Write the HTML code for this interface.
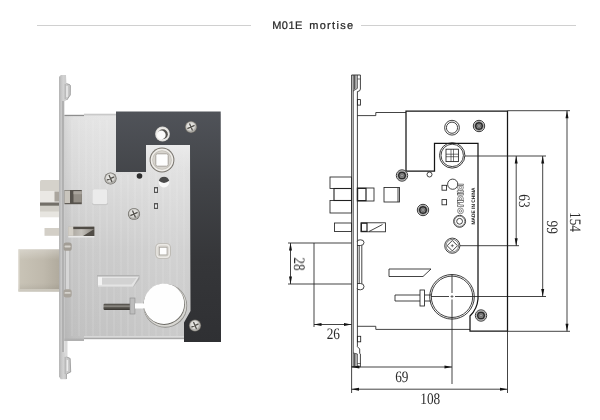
<!DOCTYPE html>
<html>
<head>
<meta charset="utf-8">
<title>M01E mortise</title>
<style>
html,body{margin:0;padding:0;background:#fff;}
body{width:600px;height:420px;overflow:hidden;position:relative;font-family:"Liberation Sans",sans-serif;}
svg{position:absolute;left:0;top:0;display:block;}
text{text-rendering:geometricPrecision;}
.t{font-family:"Liberation Sans",sans-serif;font-size:11px;fill:#262626;stroke:#262626;stroke-width:0.22px;letter-spacing:0.9px;}
.d{font-family:"Liberation Serif",serif;font-size:16px;fill:#2a2a2a;}
</style>
</head>
<body>
<svg width="600" height="420" viewBox="0 0 600 420">
<defs>
  <linearGradient id="gBody" x1="0" y1="0" x2="0" y2="1">
    <stop offset="0" stop-color="#e6e6e6"/>
    <stop offset="0.3" stop-color="#dbdbdb"/>
    <stop offset="0.6" stop-color="#cccccc"/>
    <stop offset="1" stop-color="#c3c3c3"/>
  </linearGradient>
  <linearGradient id="gFace" x1="0" y1="0" x2="1" y2="0">
    <stop offset="0" stop-color="#b9b9b9"/>
    <stop offset="0.35" stop-color="#d2d2d2"/>
    <stop offset="1" stop-color="#c2c2c2"/>
  </linearGradient>
  <linearGradient id="gBolt" x1="0" y1="0" x2="1" y2="0">
    <stop offset="0" stop-color="#c9c4b7"/>
    <stop offset="0.6" stop-color="#bfb9ac"/>
    <stop offset="1" stop-color="#b0aa9d"/>
  </linearGradient>
  <linearGradient id="gLatch" x1="0" y1="0" x2="0" y2="1">
    <stop offset="0" stop-color="#cfcbc5"/>
    <stop offset="0.3" stop-color="#ecebe8"/>
    <stop offset="1" stop-color="#d6d3ce"/>
  </linearGradient>
  <radialGradient id="gScrew" cx="0.45" cy="0.4" r="0.6">
    <stop offset="0" stop-color="#f2f2f0"/>
    <stop offset="0.7" stop-color="#d9d8d4"/>
    <stop offset="1" stop-color="#9c9b97"/>
  </radialGradient>
  <linearGradient id="gPin" x1="0" y1="0" x2="0" y2="1">
    <stop offset="0" stop-color="#45423d"/>
    <stop offset="0.4" stop-color="#8f8c86"/>
    <stop offset="0.6" stop-color="#5c5953"/>
    <stop offset="1" stop-color="#36332f"/>
  </linearGradient>
  <linearGradient id="gPlate" x1="0" y1="0" x2="0" y2="1">
    <stop offset="0" stop-color="#505359"/>
    <stop offset="0.3" stop-color="#424448"/>
    <stop offset="0.65" stop-color="#353639"/>
    <stop offset="1" stop-color="#2f3033"/>
  </linearGradient>
  <linearGradient id="gFade" x1="0" y1="0" x2="0" y2="1">
    <stop offset="0" stop-color="#ebebeb" stop-opacity="1"/>
    <stop offset="1" stop-color="#e4e4e4" stop-opacity="0"/>
  </linearGradient>
  <linearGradient id="gBoltV" x1="0" y1="0" x2="0" y2="1">
    <stop offset="0" stop-color="#ffffff" stop-opacity="0.28"/>
    <stop offset="0.25" stop-color="#ffffff" stop-opacity="0"/>
    <stop offset="0.8" stop-color="#000000" stop-opacity="0"/>
    <stop offset="1" stop-color="#000000" stop-opacity="0.08"/>
  </linearGradient>
  <linearGradient id="gBodyH" x1="0" y1="0" x2="1" y2="0">
    <stop offset="0" stop-color="#000000" stop-opacity="0.07"/>
    <stop offset="0.06" stop-color="#000000" stop-opacity="0.02"/>
    <stop offset="0.3" stop-color="#ffffff" stop-opacity="0"/>
    <stop offset="0.7" stop-color="#ffffff" stop-opacity="0.12"/>
    <stop offset="1" stop-color="#ffffff" stop-opacity="0.05"/>
  </linearGradient>
  <linearGradient id="gAux" x1="0" y1="0" x2="1" y2="0">
    <stop offset="0" stop-color="#a29d95"/>
    <stop offset="0.5" stop-color="#c4c1bb"/>
    <stop offset="1" stop-color="#8c8780"/>
  </linearGradient>
  <filter id="idf" x="-5%" y="-5%" width="110%" height="110%" color-interpolation-filters="sRGB"><feOffset dx="0" dy="0"/></filter>
  <g id="screw">
    <circle r="6.1" fill="#6f6d68"/>
    <circle r="5.4" fill="#b5b3ae"/>
    <circle r="4.8" fill="url(#gScrew)"/>
    <path d="M-3.1 1.4 L3.1 -1.4 M-1.3 -3 L1.3 3" stroke="#55534e" stroke-width="1.35" stroke-linecap="round"/>
  </g>
</defs>

<!-- ===== header ===== -->
<line x1="37" y1="25.5" x2="251" y2="25.5" stroke="#d0d0d0" stroke-width="1"/>
<line x1="361" y1="25.5" x2="576" y2="25.5" stroke="#d0d0d0" stroke-width="1"/>
<g filter="url(#idf)"><text class="t" x="272.3" y="29" style="letter-spacing:0.4px">M01E</text>
<text class="t" x="309.2" y="29" style="letter-spacing:1.3px">mortise</text></g>

<!-- ===== PHOTO ===== -->
<g id="photo">
  <!-- deadbolt -->
  <rect x="18.5" y="249.3" width="41.5" height="42.2" fill="url(#gBolt)"/>
  <rect x="18.5" y="249.3" width="41.5" height="42.2" fill="url(#gBoltV)"/>
  <rect x="18.5" y="249.3" width="1.2" height="42.2" fill="#ddd9cf" opacity="0.8"/>
  <rect x="18.5" y="289" width="41" height="2.5" fill="#d2cec4" opacity="0.8"/>
  <!-- latch -->
  <path d="M41.5 180 H59 V202.5 H40 V181.5 Q40 180 41.5 180Z" fill="#d5d2cb"/>
  <rect x="40" y="191" width="19" height="11.5" fill="#eae8e4"/>
  <rect x="54.5" y="191.5" width="4.5" height="10" fill="#aaa59d"/>
  <rect x="40" y="202.5" width="19" height="3.4" fill="#736f68"/>
  <rect x="40" y="205.8" width="19" height="11.2" fill="#d3d0c9"/>
  <rect x="40" y="211.5" width="19" height="5.8" fill="#e7e5e0"/>
  <!-- aux latch -->
  <rect x="44.5" y="228" width="15" height="7.8" fill="#d3cfc7"/>

  <!-- body -->
  <path d="M64 115 H84 V113.8 H221 V339 H84 V341 H64 Z" fill="url(#gBody)"/>
  <path d="M64 115 H84 V113.8 H221 V339 H84 V341 H64 Z" fill="url(#gBodyH)"/>
  <!-- faceplate -->
  <path d="M59.2 76.5 L61 75 L66 75 L66.4 83.6 L69.6 84.6 Q70.4 85 70.4 86 L70.3 95 L66.8 100 L64.5 101.2 L64.5 352 L66 356.5 L70.2 358.5 L70.7 372 L66.4 374 L66.4 379.3 L60.7 379.3 L59.3 377 Z" fill="url(#gFace)"/>
  <path d="M63 101 V352" stroke="#a9a9a9" stroke-width="1.6" fill="none"/>
  <path d="M67 86 V97 M67.4 360 V371" stroke="#ececec" stroke-width="1.5" fill="none"/>
  <path d="M66.4 83.6 L69.6 84.6 Q70.4 85 70.4 86 L70.3 95 L66.8 100 M66 356.5 L70.2 358.5 L70.7 372 L66.4 374 V379" stroke="#959595" stroke-width="0.8" fill="none"/>
  <path d="M65.2 84 V99 M65.2 357 V374" stroke="#a5a5a5" stroke-width="0.7" fill="none"/>
  <path d="M59.6 77 V377" stroke="#b0b0b0" stroke-width="0.8" fill="none"/>
  <rect x="64.5" y="341" width="3" height="15.5" fill="#d9d9d9"/>

  <!-- black plate -->
  <path d="M116 111.5 L220.7 111.5 L221 342 L184 342 L184 322.5 L190.5 311 L190 145 L146 145 L146 172 L116 172 Z" fill="url(#gPlate)"/>
  <!-- vertical brushed texture -->
  <g opacity="0.35" stroke="#fff" stroke-width="0.5">
    <path d="M72 120V336M79 120V336M86 120V336M93 120V336M100 120V336M107 120V336M114 175V336M121 175V336M128 175V336M135 175V336M142 175V336M149 150V336M156 150V336M163 150V336M170 150V336M177 150V336M184 150V320"/>
  </g>
  <!-- top edge highlight and bottom shadow of body -->
  <rect x="64.5" y="114.8" width="19.5" height="1.3" fill="#8e8e8e"/>
  <rect x="84" y="113.8" width="32" height="1.6" fill="#c9c9c9"/>
  <rect x="84" y="336.3" width="100" height="1.4" fill="#e2e2e2"/>
  <rect x="84" y="337.7" width="100" height="1.5" fill="#a8a8a8"/>
  <rect x="64.5" y="338.6" width="19.5" height="2.4" fill="#b0b0b0"/>

  <!-- hole in plate -->
  <circle cx="162.5" cy="134" r="7.4" fill="#dad9d5"/>
  <circle cx="162.5" cy="134" r="6.6" fill="#ecebe8"/>
  <circle cx="162.8" cy="134.2" r="5" fill="#55534f"/>
  <circle cx="161.3" cy="135" r="4.4" fill="#fbfbfa"/>
  <!-- screws -->
  <use href="#screw" x="191" y="127"/>
  <use href="#screw" x="110.5" y="178.5"/>
  <use href="#screw" x="134" y="214"/>
  <use href="#screw" x="195" y="325.5"/>

  <!-- spindle hub -->
  <rect x="146" y="145" width="44" height="30" fill="url(#gFade)"/>
  <circle cx="162" cy="160" r="12.4" fill="#77736c"/>
  <circle cx="162" cy="160" r="11.4" fill="#efede9"/>
  <circle cx="162" cy="160" r="9.8" fill="#c4c0b9"/>
  <circle cx="162" cy="160" r="9" fill="#d6d3cd"/>
  <rect x="155.8" y="153.8" width="12.4" height="12.4" rx="1.6" fill="#fdfdfd" stroke="#a09c95" stroke-width="0.9"/>
  <!-- small dot, half hole, tiny rects -->
  <circle cx="139.5" cy="176" r="2.8" fill="#2e2e2e"/>
  <circle cx="164" cy="182" r="5.4" fill="#f8f8f8"/>
  <path d="M158.8 180.8 A5.4 5.4 0 0 1 169.2 180.8 Q164 185 158.8 180.8Z" fill="#4a4a4a"/>
  <rect x="154" y="187" width="4" height="6" fill="#555"/>
  <rect x="155" y="188.4" width="2" height="3.4" fill="#e8e8e8"/>
  <rect x="154" y="203" width="4" height="6" fill="#555"/>
  <rect x="155" y="204.4" width="2" height="3.4" fill="#e8e8e8"/>

  <!-- raised square button -->
  <rect x="92" y="189.3" width="16" height="16" rx="1.8" fill="#c9c9c9"/>
  <rect x="92.4" y="189.3" width="15" height="14.6" rx="1.6" fill="#ebebeb"/>

  <!-- latch opening -->
  <rect x="64.5" y="190" width="17.3" height="14.2" fill="#57534d"/>
  <rect x="64.5" y="190.5" width="5.5" height="12.6" fill="#c9c5bd"/>
  <rect x="73.5" y="191.2" width="8.3" height="11.2" fill="#938e86"/>
  <rect x="73.5" y="191.2" width="8.3" height="3" fill="#a9a49c"/>
  <!-- aux latch opening -->
  <rect x="68.3" y="226.7" width="26" height="10.8" fill="#e8e8e8"/>
  <rect x="68.3" y="226.7" width="26" height="9.2" fill="url(#gAux)"/>
  <rect x="68.3" y="227" width="5" height="8.8" fill="#d3cfc7"/>
  <rect x="73.3" y="226.7" width="21" height="2.4" fill="#4f4b45"/>
  <path d="M83 235.9 L94.3 229.1 V235.9Z" fill="#514d47"/>
  <!-- square hub hole -->
  <rect x="155.3" y="243.2" width="15.6" height="15.6" rx="4.2" fill="#bcb9b3"/>
  <rect x="156.2" y="244.1" width="13.8" height="13.8" rx="3.6" fill="#ebe9e5"/>
  <rect x="157.6" y="245.5" width="11" height="11" rx="2.6" fill="#d2cfc9"/>
  <rect x="159.4" y="247.3" width="7.6" height="7.6" fill="#fdfdfd" stroke="#a5a29c" stroke-width="0.7"/>

  <!-- indented slot -->
  <path d="M97 275 L139.5 275 L139.5 279 L133.5 286.8 L97 286.8 Z" fill="#b3b3b3"/>
  <path d="M97.6 276.4 L139 276.4 L133 286.8 L97.6 286.8 Z" fill="#e4e4e4"/>
  <path d="M100.5 278 L136.5 278 L131.5 284.6 L100.5 284.6 Z" fill="#d2d2d2"/>
  <rect x="98" y="277" width="4" height="8" fill="#f3f3f3"/>

  <!-- pin and nut -->
  <rect x="103.5" y="303.8" width="28" height="6.2" rx="1.2" fill="url(#gPin)"/>
  <rect x="130" y="298" width="5" height="16" fill="#bdbdbd" stroke="#8d8d8d" stroke-width="0.6"/>
  <rect x="135" y="303.5" width="12" height="5" fill="#f2f2f2"/>

  <!-- cylinder hole -->
  <circle cx="165.3" cy="305.8" r="21.9" fill="#8f8e8a"/>
  <circle cx="165.1" cy="305.5" r="21.3" fill="#d9d8d4"/>
  <circle cx="164.3" cy="304.3" r="20.6" fill="#6f6d68"/>
  <circle cx="164" cy="303.7" r="20.2" fill="#fefefe"/>
  <rect x="135" y="303.6" width="12" height="4.6" fill="#fefefe"/>
  <!-- faceplate small details -->
  <rect x="65" y="250" width="5" height="40" fill="#d6d6d6"/>
  <rect x="65" y="250" width="1" height="40" fill="#b4b4b4"/>
  <rect x="69.2" y="250" width="0.9" height="40" fill="#b9b9b9"/>
  <rect x="63.5" y="242.6" width="8.2" height="8.2" rx="2.6" fill="#a29d95"/>
  <rect x="64.5" y="245.6" width="6.2" height="1.8" rx="0.9" fill="#d6d3cd"/>
  <rect x="63.5" y="289.2" width="8.2" height="8.2" rx="2.6" fill="#a9a49c"/>
  <rect x="64.5" y="292" width="6.2" height="1.8" rx="0.9" fill="#d6d3cd"/>
</g>

<!-- ===== DRAWING ===== -->
<g id="drawing" fill="none" stroke="#222" stroke-width="0.85" stroke-linecap="butt">
  <defs>
    <g id="dscrew">
      <circle r="5.7" fill="#fff" stroke="#222" stroke-width="0.9"/>
      <circle r="4.6" fill="none" stroke="#444" stroke-width="0.5"/>
      <circle r="3.3" fill="#8a8a8a" stroke="#2a2a2a" stroke-width="1.5"/>
      <circle r="1.4" fill="#aaa" stroke="#444" stroke-width="0.5"/>
    </g>
    <path id="ah" d="M0 0 L-7.5 -1.5 L-7.5 1.5 Z" fill="#111" stroke="none"/>
  </defs>

  <!-- faceplate -->
  <path d="M351.6 75 V367 M353.2 75 V367 M357.4 91.5 V346.7"/>
  <path d="M351.6 75 H360.4 V89 Q360.4 91.3 357.4 91.6"/>
  <path d="M357.4 75 V88.4 L353.2 91" stroke-width="0.7"/>
  <path d="M354.5 75 V89.6 M355.9 75 V88.9" stroke-width="0.9" stroke="#444"/>
  <path d="M357.4 79 H360.4" stroke-width="0.6"/>
  <rect x="357.4" y="99.6" width="3" height="5.5"/>
  <rect x="357.4" y="336.3" width="3.3" height="5.5"/>
  <path d="M357.4 346.7 L359.7 349 V353.3 L360.4 354 V366.8 H351.6"/>
  <path d="M357.4 354 V366.8 M353.2 353 L357.4 354" stroke-width="0.7"/>
  <path d="M354.5 353.4 V366.8 M355.9 353.7 V366.8" stroke-width="0.9" stroke="#444"/>
  <path d="M357.4 363.5 H360.4" stroke-width="0.6"/>

  <!-- body outline -->
  <path d="M357.4 115.6 H375.8 V112.5 H406"/>
  <path d="M357.4 326.3 H375.8 V329.4 H470"/>

  <!-- latch -->
  <rect x="330" y="177" width="21.5" height="11.5"/>
  <rect x="334" y="188.5" width="17.5" height="12" stroke-width="1.1"/>
  <rect x="330" y="200.5" width="21.5" height="12.5"/>
  <rect x="357.2" y="188" width="16.8" height="13"/>
  <rect x="357.6" y="188.4" width="8.4" height="12.2" stroke-width="1.2"/>
  <rect x="384" y="187.5" width="15.5" height="14.5"/>
  <path d="M398 187.5 V202"/>
  <!-- aux latch -->
  <rect x="334.5" y="223" width="17" height="8.5"/>
  <rect x="361" y="222.8" width="24.5" height="9"/>
  <rect x="361.4" y="223.2" width="5.6" height="8.2" stroke-width="1.2"/>
  <path d="M369 231.5 L382.5 224.5"/>

  <!-- deadbolt + pin -->
  <path d="M314 243 V327"/>
  <path d="M288 243 H351.5 M288 284 H351.5"/>
  <path d="M357.2 241.5 Q357.2 239.8 360.5 239.8 Q364 239.8 364 242.5 Q364 245.5 360.5 245.5 H357.2"/>
  <path d="M357.2 288.5 Q357.2 289.8 360.5 289.8 Q364 289.8 364 286.5 Q364 283.5 360.5 283.5 H357.2"/>
  <path d="M359.2 245.5 V283.5 M361.8 245.5 V283.5"/>

  <!-- slot, bar, nut -->
  <path d="M389 269 H431 L423 276.5 H389 Z"/>
  <path d="M395 295 H420 M395 301 H420 M395 295 V301 M424.5 295 H431 M424.5 301 H431"/>
  <rect x="420" y="290" width="4.5" height="16" fill="#fff"/>

  <!-- big circle -->
  <circle cx="452" cy="296.8" r="22.3" stroke-width="0.9"/>
  <circle cx="452" cy="296.8" r="20.7"/>
  <path d="M452 275 V293 M452 299.5 V384"/>
  <path d="M431 296.5 H449 M455 296.5 H546"/>
  <path d="M450.5 296.5 H453.5 M452 295 V298" stroke-width="0.6"/>

  <!-- plate -->
  <path d="M406 111 H507.5 V331 H470 V316 A26.8 26.8 0 0 0 478 299 V143.3 H434.5 V171 H406 Z" stroke="#151515" stroke-width="1.25" stroke-linejoin="miter"/>
  <path d="M507.5 331 V393"/>

  <!-- holes / screws -->
  <circle cx="452" cy="127.7" r="7.4"/>
  <circle cx="452" cy="127.7" r="5.6"/>
  <use href="#dscrew" x="479" y="126"/>
  <use href="#dscrew" x="402" y="175.5"/>
  <use href="#dscrew" x="423" y="210"/>
  <use href="#dscrew" x="481" y="315.5"/>

  <!-- spindle -->
  <circle cx="452.2" cy="155.4" r="12.7" stroke-width="0.9"/>
  <circle cx="452.2" cy="155.4" r="11.2"/>
  <rect x="446" y="149.2" width="12.4" height="12.4"/>
  <path d="M451 149.2 V161.6 M453.5 149.2 V161.6 M446 154.2 H458.4 M446 156.7 H458.4" stroke-width="0.6"/>
  <path d="M464.9 156 H546"/>

  <circle cx="429.5" cy="174.5" r="2.5"/>
  <circle cx="452.7" cy="184.2" r="5.1"/>
  <rect x="442" y="185.3" width="4.6" height="4.9"/>
  <rect x="442" y="199.6" width="4.6" height="5.2"/>
  <circle cx="459.6" cy="221.3" r="6"/>
  <circle cx="459.6" cy="221.3" r="5.1" stroke-width="0.5"/>
  <circle cx="459.6" cy="221.3" r="2.9"/>
  <!-- logo + made in china -->
  <g transform="translate(463.5 213.9) rotate(-90)" fill="#fff" stroke="#2e2e2e" stroke-width="0.55">
    <circle cx="3" cy="-3" r="2.9"/><circle cx="3" cy="-3" r="1.2"/>
    <path d="M7.3 0 V-6 H8.9 V-5.2 Q9.8 -6.2 11 -5.9 V-4.4 Q8.9 -4.6 8.9 -2.6 V0 Z"/>
    <circle cx="15.1" cy="-3" r="2.9"/><circle cx="15.1" cy="-3" r="1.2"/>
    <rect x="11.6" y="-6.2" width="1.6" height="6.2"/>
    <rect x="18.9" y="-6.2" width="1.6" height="6.2"/>
    <path d="M21.6 -6.2 H23.2 V-5 H24.4 V-3.7 H23.2 V0 H21.6 V-3.7 H20.9 V-5 H21.6 Z"/>
    <circle cx="26.4" cy="-3" r="2.9"/><circle cx="26.4" cy="-3" r="1.2"/>
    <rect x="28.3" y="-6.2" width="1.5" height="6.2"/>
  </g>
  <g filter="url(#idf)"><text transform="translate(475.4 224.5) rotate(-90)" font-family="Liberation Sans, sans-serif" font-weight="bold" font-size="5" fill="#1a1a1a" stroke="none" textLength="37" lengthAdjust="spacingAndGlyphs">MADE IN CHINA</text></g>

  <!-- square hub -->
  <circle cx="452.3" cy="245.7" r="7.6"/>
  <circle cx="452.3" cy="245.7" r="6.3" stroke-width="0.6"/>
  <path d="M452.3 240.5 L457.5 245.7 L452.3 250.9 L447.1 245.7 Z"/>
  <path d="M450.8 245.7 H453.8 M452.3 244.2 V247.2" stroke-width="0.6"/>
  <path d="M460 245.7 H519"/>

  <!-- dimensions -->
  <path d="M507.5 110.7 H570 M507.5 331.3 H570"/>
  <path d="M516.2 156 V245.7 M542.7 156 V296.5 M567 110.7 V331.3"/>
  <use href="#ah" transform="translate(516.2 156) rotate(-90)"/>
  <use href="#ah" transform="translate(516.2 245.7) rotate(90)"/>
  <use href="#ah" transform="translate(542.7 156) rotate(-90)"/>
  <use href="#ah" transform="translate(542.7 296.5) rotate(90)"/>
  <use href="#ah" transform="translate(567 110.7) rotate(-90)"/>
  <use href="#ah" transform="translate(567 331.3) rotate(90)"/>

  <path d="M290.5 243 V284"/>
  <use href="#ah" transform="translate(290.5 243) rotate(-90)"/>
  <use href="#ah" transform="translate(290.5 284) rotate(90)"/>
  <path d="M314 324.5 H351.5"/>
  <use href="#ah" transform="translate(314 324.5) rotate(180)"/>
  <use href="#ah" transform="translate(351.5 324.5)"/>

  <path d="M351.6 367 H452 M351.6 389.2 H507.5 M351.6 367 V393"/>
  <use href="#ah" transform="translate(452 367)"/>
  <use href="#ah" transform="translate(351.8 367) rotate(180)"/>
  <use href="#ah" transform="translate(351.5 389.2) rotate(180)"/>
  <use href="#ah" transform="translate(507.5 389.2)"/>
</g>
<g id="dimtext" class="d" text-anchor="middle" opacity="0.999">
  <text transform="translate(401.8 381.7) scale(0.83 1)">69</text>
  <text transform="translate(430.3 403.8) scale(0.83 1)">108</text>
  <text transform="translate(333.3 339) scale(0.83 1)">26</text>
  <text transform="translate(294 264) rotate(90) scale(0.83 1)">28</text>
  <text transform="translate(518.8 201) rotate(90) scale(0.83 1)">63</text>
  <text transform="translate(546.5 227.2) rotate(90) scale(0.83 1)">99</text>
  <text transform="translate(569.8 222) rotate(90) scale(0.83 1)">154</text>
</g>
</svg>
</body>
</html>
